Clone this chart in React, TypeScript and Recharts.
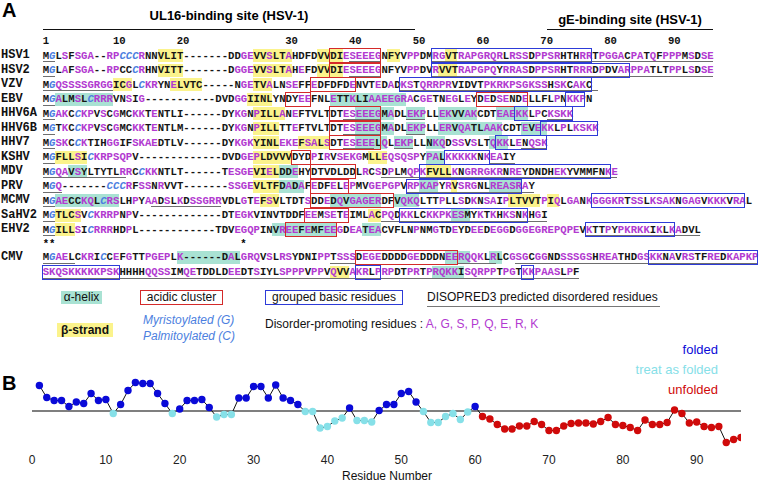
import React from 'react'
import { LineChart, Line, XAxis, YAxis, ReferenceLine } from 'recharts'

// ---------- panel B : fold index per residue ----------
const FOLD_VALUES = [
  0.51, 0.27, 0.21, 0.21, 0.09, 0.18, 0.15, 0.35, 0.21, 0.23,
  -0.05, 0.13, 0.41, 0.57, 0.55, 0.55, 0.35, 0.15, -0.05, 0.04,
  0.21, 0.21, 0.23, 0.07, -0.12, -0.07, -0.07, 0.26, 0.26, 0.49,
  0.49, 0.26, 0.52, 0.26, 0.21, 0.13, -0.01, -0.01, -0.34, -0.31,
  -0.2, -0.14, 0.06, -0.19, -0.19, -0.22, 0.01, 0.13, 0.13, 0.35,
  0.39, 0.18, -0.01, -0.23, -0.23, -0.11, -0.05, -0.17, -0.02, 0.09,
  -0.11, -0.16, -0.27, -0.36, -0.36, -0.3, -0.3, -0.21, -0.27, -0.39,
  -0.39, -0.3, -0.25, -0.24, -0.24, -0.26, -0.21, -0.13, -0.27, -0.29,
  -0.33, -0.39, -0.18, -0.27, -0.27, -0.23, 0.02, -0.05, -0.24, -0.22,
  -0.31, -0.33, -0.31, -0.63, -0.57, -0.53,
]
// F = folded, T = treat as folded, U = unfolded
const FOLD_STATES =
  'FFFFFFFFFFTFFFFFFFTFFFFFTTTFFFFFFFFFTTTTTTFTTTFFFFFFTTTTTTTF' +
  'UUUUUUUUUUUUUUUUUUUUUUUUUUUUUUUUUUUU'
const X_TICKS = [0, 10, 20, 30, 40, 50, 60, 70, 80, 90]

const STATE_COLORS: Record<string, string> = { F: '#0a0ad8', T: '#86e0e8', U: '#d00a0a' }
const STATE_LABELS = [
  { key: 'F', label: 'folded' },
  { key: 'T', label: 'treat as folded' },
  { key: 'U', label: 'unfolded' },
]

const foldData = FOLD_VALUES.map((v, i) => ({ res: i + 1, value: v, state: FOLD_STATES[i] }))

// ---------- panel A : alignment ----------
type Span = [number, number]
interface SeqRow {
  name: string
  seq: string
  helix?: Span[]
  strand?: Span[]
  acidic?: Span[]
  basic?: Span[]
  under?: Span[]
  ital?: number[]
}

const SEQ_ROWS: SeqRow[] = [
  { name: 'HSV1', seq: 'MGLSFSGA--RPCCCRNNVLIT-------DDGEVVSLTAHDFDVVDIESEEEGNFYVPPDMRGVTRAPGRQRLRSSDPPSRHTHRRTPGGACPATQFPPPMSDSE',
    strand: [[18, 21], [33, 38], [43, 46], [54, 55], [63, 64]], acidic: [[45, 52]], basic: [[61, 85]],
    under: [[0, 1], [48, 52], [61, 104]], ital: [1, 12, 13, 14] },
  { name: 'HSV2', seq: 'MGLAFSGA--RPCCCRHNVITT-------DGGEVVSLTAHEFDVVDIESEEEGNFYVPPDVRVVTRAPGPQYRRASDPPSRHTRRRDPDVARPPATLTPPLSDSE',
    strand: [[18, 21], [33, 38], [43, 46], [62, 64]], acidic: [[45, 52]], basic: [[61, 91]],
    under: [[0, 1], [48, 52], [61, 104]], ital: [1, 14] },
  { name: 'VZV', seq: 'MGQSSSSGRGGICGLCKRYNELVTC-----NGETVALNSEFFEDFDFDENVTEDADKSTQRRPRVIDVTPKRKPSGKSSHSKCAKC',
    strand: [[11, 13], [20, 24], [33, 35]], acidic: [[42, 48]], basic: [[56, 85]],
    under: [[0, 10], [56, 86]], ital: [1, 15] },
  { name: 'EBV', seq: 'MGALMSLCRRRVNSIG-----------DVDGGIINLYNDYEEFNLETTKLIAAEEGRACGETNEGLEYDEDSENDELLFLPNKKPN',
    helix: [[2, 10], [45, 56]], strand: [[32, 35]], acidic: [[38, 41], [68, 75]], basic: [[82, 84]],
    under: [[0, 1]], ital: [1, 7] },
  { name: 'HHV6A', seq: 'MGAKCCKPVSCGMCKKTENTLI------DYKGNPILLANEFTVLTDTESEEEGMADLEKPLLEKVVAKCDTEAEKKLPCKSKK',
    helix: [[49, 54], [57, 59], [62, 67], [71, 75]], strand: [[33, 37]], acidic: [[45, 52]], basic: [[74, 82]],
    under: [[0, 1], [47, 52], [57, 59], [79, 82]], ital: [1, 5] },
  { name: 'HHV6B', seq: 'MGTKCCKPVSCGMCKKTENTLM------DYKGNPILLTTEFTVLTDTESEEEGMADLEKPLLERVQATLAAKCDTEVEKKLPLKSKK',
    helix: [[49, 54], [57, 59], [62, 71], [75, 78]], strand: [[33, 36]], acidic: [[45, 52]], basic: [[78, 86]],
    under: [[0, 1], [47, 52], [57, 59]], ital: [1, 5] },
  { name: 'HHV7', seq: 'MGSKCCKTIHGGIFSKAEDTLV------DYKGKYINLEKEFSALSDTESEEELQLEKPLLNKQDSSVSLTQKKLENQSK',
    helix: [[49, 53], [55, 57], [60, 62], [70, 72]], strand: [[33, 36], [40, 44]], acidic: [[45, 52]], basic: [[71, 78]],
    under: [[0, 1], [47, 51], [55, 57], [75, 78]], ital: [1, 5] },
  { name: 'KSHV', seq: 'MGFLLSICKRPSQPV-------------DVDGEPLDVVVDYDPIRVSEKGMLLEQSQSPYPALKKKKKNKEAIY',
    helix: [[60, 62]], strand: [[2, 6], [33, 38], [51, 53]], acidic: [[39, 41]], basic: [[63, 69]],
    under: [[0, 1], [70, 73]], ital: [1, 7] },
  { name: 'MDV', seq: 'MGQAVSYLTYTLRRCCKKNTLT------TESGEVIELDDEHYDTVDLDDLRCSDPLMQPKFVLLKNGRRGKRNREYDNDHEKYVMMFNKE',
    helix: [[4, 6], [37, 39]], strand: [[33, 36], [60, 63]], acidic: [[42, 48]], basic: [[59, 88]],
    under: [[0, 12], [53, 89]], ital: [1, 15] },
  { name: 'PRV', seq: 'MGQ-------CCCRFSSNRVVT-------SSGEVLTFDADAFEDFELEPMVGEPGPVRPKAPYRVSRGNLREASRAY',
    helix: [[37, 40], [59, 61], [70, 74]], strand: [[33, 36], [64, 64]], acidic: [[42, 47]], basic: [[57, 74]],
    under: [[0, 2], [57, 76]], ital: [1, 10, 11, 12] },
  { name: 'MCMV', seq: 'MGAECCKQLCRSLHPYAADSLKDSSGRRVDLGTEFSVLTDTSDDEDQVGAGERDFVQKQLTTPLLSDKNSAIPLTVVTPIQLGANKGGGKRTSSLKSAKNGAGVKKKVRAL',
    helix: [[2, 11], [45, 52], [55, 58]], strand: [[34, 36], [73, 77], [79, 80]], acidic: [[42, 54]], basic: [[86, 109]],
    under: [[0, 1], [17, 27]], ital: [1, 9] },
  { name: 'SaHV2', seq: 'MGTLCSVCKRRPNPV-------------DTEGKVINVTDDFEEMSETEIMLACPQDKKLCKKPKESMYKTKHKSNKHGI',
    helix: [[64, 66]], strand: [[2, 5], [51, 52]], acidic: [[41, 47]], basic: [[56, 75]],
    under: [[0, 1], [53, 78]], ital: [1, 7] },
  { name: 'EHV2', seq: 'MGILLSICRRRHDPL------------TDVEGQPINVREEFEMFEEGDEATEACVFLNPNMGTDEYDEEDEGGDGGEGREPQPEVKTTPYPKRKKIKLKADVL',
    helix: [[36, 45], [50, 52]], strand: [[2, 4]], acidic: [[38, 45]], basic: [[85, 98]],
    under: [[0, 1], [85, 102]], ital: [1, 7] },
  { name: 'CMV', seq: 'MGAELCKRICCEFGTTPGEPLK------DALGRQVSLRSYDNIPPTSSSDEGEDDDDGEDDDNEERQQKLRLCGSGCGGNDSSSGSHREATHDGSKKNAVRSTFREDKAPKP',
    helix: [[21, 30], [63, 66], [70, 71]], acidic: [[49, 64]], basic: [[95, 111]],
    under: [[0, 4], [45, 48], [65, 70], [74, 111]], ital: [1, 9] },
  { name: '', seq: 'SKQSKKKKKPSKHHHHQQSSIMQETDDLDEEDTSIYLSPPPVPPVQVVAKRLPRPDTPRTPRQKKISQRPPTPGTKKPAASLPF',
    helix: [[61, 65]], strand: [[45, 47]], basic: [[0, 11], [49, 52], [75, 76]],
    under: [[0, 83]] },
]
const ROW_Y = [55.5, 70, 84.5, 99, 113.5, 128, 142.5, 157, 171.5, 186, 200.5, 215, 229.5, 257, 272]
const STAR_Y = 243.5
const HEADER_NUMS = [1, 10, 20, 30, 40, 50, 60, 70, 80, 90]
const DISORDER_RES = 'AGSPQERK'

const MONO = '"Liberation Mono", "Courier New", monospace'
const SANS = '"Liberation Sans", Arial, Helvetica, sans-serif'
const CW = 6.38
const X0 = 42.7
const PURPLE = '#b23ad0'
const TEAL = '#a9e2d3'
const YELLOW = '#fbf38c'
const RED = '#d42a2a'
const BLUE = '#2d3bd8'
const ITAL_BLUE = '#4d7fe0'

const colX = (c: number) => X0 + c * CW

// column in the HSV1 row holding residue n
const hsv1Col = (n: number) => {
  const s = SEQ_ROWS[0].seq
  let k = 0
  for (let i = 0; i < s.length; i++) {
    if (s[i] !== '-') k++
    if (k === n) return i
  }
  return 0
}

function renderDot(p: any) {
  const { cx, cy, payload, index } = p
  return <circle key={`d${index}`} cx={cx} cy={cy} r={3.7} fill={STATE_COLORS[payload.state]} />
}

function AlignRow({ row, y }: { row: SeqRow; y: number }) {
  const abs: React.CSSProperties = { position: 'absolute' }
  return (
    <>
      {(row.helix ?? []).map(([a, b], i) => (
        <div key={`h${i}`} style={{ ...abs, left: colX(a), top: y - 6.5, width: (b - a + 1) * CW, height: 13, background: TEAL }} />
      ))}
      {(row.strand ?? []).map(([a, b], i) => (
        <div key={`s${i}`} style={{ ...abs, left: colX(a), top: y - 6.5, width: (b - a + 1) * CW, height: 13, background: YELLOW }} />
      ))}
      {row.name && (
        <div style={{ ...abs, left: 1, top: y - 7.5, lineHeight: '15px', fontFamily: MONO, fontWeight: 700, fontSize: 12, color: '#111' }}>
          {row.name}
        </div>
      )}
      <div style={{ ...abs, left: X0, top: y - 7, lineHeight: '14px', fontFamily: MONO, fontWeight: 700, fontSize: 10.63, whiteSpace: 'pre' }}>
        {row.seq.split('').map((ch, i) => {
          const it = (row.ital ?? []).includes(i)
          const color = it ? ITAL_BLUE : DISORDER_RES.includes(ch) ? PURPLE : '#151515'
          return <span key={i} style={{ color, fontStyle: it ? 'italic' : 'normal' }}>{ch}</span>
        })}
      </div>
      {(row.under ?? []).map(([a, b], i) => (
        <div key={`u${i}`} style={{ ...abs, left: colX(a), top: y + 5.6, width: (b - a + 1) * CW, height: 1.4, background: '#6e6e6e' }} />
      ))}
      {(row.acidic ?? []).map(([a, b], i) => (
        <div key={`a${i}`} style={{ ...abs, left: colX(a) - 0.5, top: y - 7.5, width: (b - a + 1) * CW + 1, height: 15, border: `1.3px solid ${RED}`, boxSizing: 'border-box' }} />
      ))}
      {(row.basic ?? []).map(([a, b], i) => (
        <div key={`b${i}`} style={{ ...abs, left: colX(a) - 0.5, top: y - 7.5, width: (b - a + 1) * CW + 1, height: 15, border: `1.3px solid ${BLUE}`, boxSizing: 'border-box' }} />
      ))}
    </>
  )
}

export default function App() {
  const abs: React.CSSProperties = { position: 'absolute' }
  const legendText: React.CSSProperties = { fontFamily: SANS, fontSize: 12, color: '#111', whiteSpace: 'nowrap' }

  return (
    <div style={{ position: 'absolute', left: 0, top: 0, width: 760, height: 483, background: '#fff', overflow: 'hidden' }}>
      {/* Panel A */}
      <div style={{ ...abs, left: 2, top: -1, fontFamily: SANS, fontWeight: 700, fontSize: 20 }}>A</div>
      <div style={{ ...abs, left: 229 - 120, width: 240, top: 8, textAlign: 'center', fontFamily: SANS, fontWeight: 700, fontSize: 13 }}>UL16-binding site (HSV-1)</div>
      <div style={{ ...abs, left: 42.7, top: 28.5, width: 372, height: 1.6, background: '#111' }} />
      <div style={{ ...abs, left: 630 - 100, width: 200, top: 12, textAlign: 'center', fontFamily: SANS, fontWeight: 700, fontSize: 13 }}>gE-binding site (HSV-1)</div>
      <div style={{ ...abs, left: 547, top: 28.5, width: 166, height: 1.6, background: '#111' }} />
      {HEADER_NUMS.map((n) => (
        <div key={n} style={{ ...abs, left: colX(hsv1Col(n)), top: 34, lineHeight: '14px', fontFamily: MONO, fontWeight: 700, fontSize: 10.63, color: '#111' }}>{n}</div>
      ))}

      {SEQ_ROWS.map((row, i) => <AlignRow key={i} row={row} y={ROW_Y[i]} />)}
      <div style={{ ...abs, left: X0, top: STAR_Y - 7, lineHeight: '14px', fontFamily: MONO, fontWeight: 700, fontSize: 10.63, whiteSpace: 'pre' }}>
        {'**                             *'}
      </div>

      {/* legend of panel A */}
      <div style={{ ...abs, left: 61, top: 291, width: 41, height: 13, background: TEAL }} />
      <div style={{ ...abs, ...legendText, left: 61, width: 41, top: 290, lineHeight: '15px', textAlign: 'center' }}>α-helix</div>
      <div style={{ ...abs, left: 140, top: 290, width: 83, height: 15, border: `1.3px solid ${RED}`, boxSizing: 'border-box' }} />
      <div style={{ ...abs, ...legendText, left: 140, width: 83, top: 290, lineHeight: '15px', textAlign: 'center' }}>acidic cluster</div>
      <div style={{ ...abs, left: 265, top: 290, width: 138, height: 15, border: `1.3px solid ${BLUE}`, boxSizing: 'border-box' }} />
      <div style={{ ...abs, ...legendText, left: 265, width: 138, top: 290, lineHeight: '15px', textAlign: 'center' }}>grouped basic residues</div>
      <div style={{ ...abs, ...legendText, left: 427, top: 290, lineHeight: '15px' }}>DISOPRED3 predicted disordered residues</div>
      <div style={{ ...abs, left: 427, top: 305.5, width: 233, height: 1.6, background: '#777' }} />

      <div style={{ ...abs, left: 57, top: 323, width: 56, height: 14, background: YELLOW }} />
      <div style={{ ...abs, ...legendText, fontWeight: 700, left: 57, width: 56, top: 322.5, lineHeight: '15px', textAlign: 'center' }}>β-strand</div>
      <div style={{ ...abs, ...legendText, color: ITAL_BLUE, fontStyle: 'italic', left: 143, top: 312.5, lineHeight: '15px' }}>Myristoylated (G)</div>
      <div style={{ ...abs, ...legendText, color: ITAL_BLUE, fontStyle: 'italic', left: 143, top: 328.5, lineHeight: '15px' }}>Palmitoylated (C)</div>
      <div style={{ ...abs, ...legendText, left: 265, top: 316.5, lineHeight: '15px' }}>
        Disorder-promoting residues : <span style={{ color: PURPLE }}>A, G, S, P, Q, E, R, K</span>
      </div>

      {/* Panel B */}
      <div style={{ ...abs, left: 2, top: 372, fontFamily: SANS, fontWeight: 700, fontSize: 20, lineHeight: '22px' }}>B</div>
      <div style={{ ...abs, left: 0, top: 330 }}>
        <LineChart width={760} height={153} data={foldData} margin={{ top: 36, right: 19, left: 32, bottom: 12 }}>
          <XAxis dataKey="res" type="number" domain={[0, 96]} ticks={X_TICKS} allowDataOverflow
            tickLine={false} axisLine={false} tickSize={0} tickMargin={4} height={20}
            tick={{ fontSize: 12, fill: '#222', fontFamily: SANS }} />
          <YAxis hide domain={[-0.8, 0.9]} />
          <ReferenceLine y={0} stroke="#555" strokeWidth={1.6} />
          <Line dataKey="value" stroke="#111" strokeWidth={1} dot={renderDot} activeDot={false} isAnimationActive={false} />
        </LineChart>
      </div>
      {STATE_LABELS.map((s, i) => (
        <div key={s.key} style={{ ...abs, right: 42, top: 341 + i * 20, lineHeight: '18px', fontFamily: SANS, fontSize: 13, color: STATE_COLORS[s.key] }}>
          {s.label}
        </div>
      ))}
      <div style={{ ...abs, left: 287, width: 200, top: 469, textAlign: 'center', fontFamily: SANS, fontSize: 12, color: '#111' }}>Residue Number</div>
    </div>
  )
}
